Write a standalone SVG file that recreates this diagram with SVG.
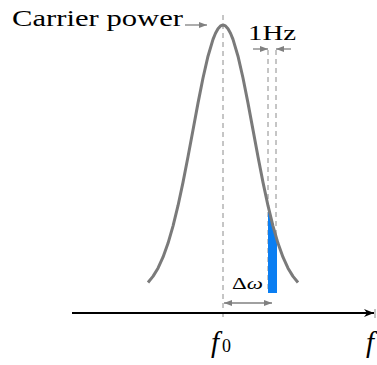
<svg xmlns="http://www.w3.org/2000/svg" width="377" height="365" viewBox="0 0 377 365">
<defs>
<style>
.dash{stroke:#8c8c8c;stroke-width:1;stroke-dasharray:5,4;fill:none}
.garr{stroke:#808080;stroke-width:1.3;fill:none}
.it{font-style:italic}
</style>
<marker id="gh" viewBox="0 0 8 6" refX="8" refY="3" markerWidth="8" markerHeight="6" markerUnits="userSpaceOnUse" orient="auto-start-reverse">
<path d="M0,0 L8,3 L0,6 Z" fill="#808080"/>
</marker>
<marker id="kh" viewBox="0 0 10 8" refX="10" refY="4" markerWidth="10" markerHeight="8" markerUnits="userSpaceOnUse" orient="auto">
<path d="M0,0 L10,4 L0,8 L3,4 Z" fill="#000"/>
</marker>
</defs>
<rect width="377" height="365" fill="#fff"/>
<g id="guides">
<line class="dash" x1="223" y1="15" x2="223" y2="318"/>
<line class="dash" x1="268" y1="50" x2="268" y2="293"/>
<line class="dash" x1="276" y1="50" x2="276" y2="293"/>
<line x1="375" y1="309" x2="375" y2="318" stroke="#8c8c8c" stroke-width="1"/>
</g>
<g id="sideband">
<path d="M268,205.7 L270.5,216.3 L273,226.1 L275.5,235.1 L277,240.1 L277,293 L268,293 Z" fill="#0a7ef2"/>
</g>
<g id="curve">
<polyline fill="none" stroke="#7a7a7a" stroke-width="3" stroke-linejoin="round" points="148,282.5 153,276.4 158,268.2 163,257.2 168,243.3 173,226.1 178,205.7 183,182.4 188,156.8 193,129.9 198,103.1 203,78.0 208,56.2 213,39.4 215.5,33.2 218,28.7 220.5,25.9 223,25 225.5,25.9 228,28.7 230.5,33.2 233,39.4 238,56.2 243,78.0 248,103.1 253,129.9 258,156.8 263,182.4 268,205.7 273,226.1 278,243.3 283,257.2 288,268.2 293,276.4 298,282.5"/>
</g>
<g id="connectors">
<line x1="72" y1="313" x2="374" y2="313" stroke="#000" stroke-width="2" marker-end="url(#kh)"/>
<line class="garr" x1="185" y1="25" x2="207" y2="25" marker-end="url(#gh)"/>
<line class="garr" x1="253" y1="49" x2="268" y2="49" marker-end="url(#gh)"/>
<line class="garr" x1="291" y1="49" x2="276" y2="49" marker-end="url(#gh)"/>
<line class="garr" x1="224" y1="303" x2="272" y2="303" marker-start="url(#gh)" marker-end="url(#gh)"/>
</g>
<g id="labels" font-family="'Liberation Serif', 'Times New Roman', serif" fill="#000">
<text x="12" y="26" font-size="24" textLength="171" lengthAdjust="spacingAndGlyphs">Carrier power</text>
<text x="248" y="40" font-size="22" textLength="48" lengthAdjust="spacingAndGlyphs">1Hz</text>
<text x="232" y="289" font-size="17" textLength="31" lengthAdjust="spacingAndGlyphs">Δ<tspan class="it">ω</tspan></text>
<text x="211" y="352" font-size="29"><tspan class="it">f</tspan><tspan font-size="18" dx="3">0</tspan></text>
<text class="it" x="366" y="352" font-size="29">f</text>
</g>
</svg>
